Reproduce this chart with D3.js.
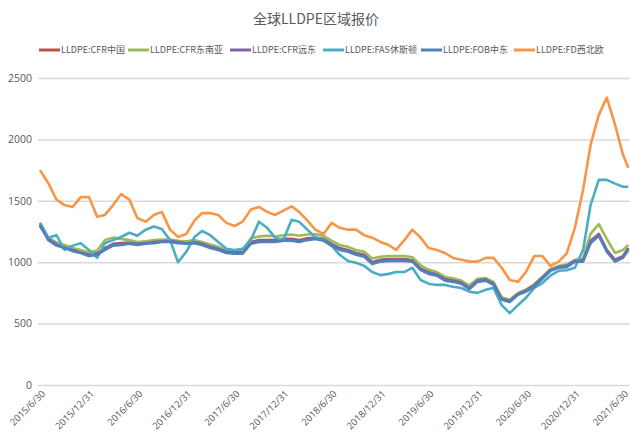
<!DOCTYPE html>
<html>
<head>
<meta charset="utf-8">
<script src="https://cdn.jsdelivr.net/npm/d3@7"></script>
<style>
  html, body { margin: 0; padding: 0; background: #fff; }
  svg { display: block; }
</style>
</head>
<body>
<script>
// Month-end observation dates
const dates = [
  "2015-06-30","2015-07-31","2015-08-31","2015-09-30","2015-10-31","2015-11-30","2015-12-31",
  "2016-01-31","2016-02-29","2016-03-31","2016-04-30","2016-05-31","2016-06-30","2016-07-31","2016-08-31","2016-09-30","2016-10-31","2016-11-30","2016-12-31",
  "2017-01-31","2017-02-28","2017-03-31","2017-04-30","2017-05-31","2017-06-30","2017-07-31","2017-08-31","2017-09-30","2017-10-31","2017-11-30","2017-12-31",
  "2018-01-31","2018-02-28","2018-03-31","2018-04-30","2018-05-31","2018-06-30","2018-07-31","2018-08-31","2018-09-30","2018-10-31","2018-11-30","2018-12-31",
  "2019-01-31","2019-02-28","2019-03-31","2019-04-30","2019-05-31","2019-06-30","2019-07-31","2019-08-31","2019-09-30","2019-10-31","2019-11-30","2019-12-31",
  "2020-01-31","2020-02-29","2020-03-31","2020-04-30","2020-05-31","2020-06-30","2020-07-31","2020-08-31","2020-09-30","2020-10-31","2020-11-30","2020-12-31",
  "2021-01-31","2021-02-28","2021-03-31","2021-04-30","2021-05-31","2021-06-30","2021-07-20"
];

// USD/t quotes by region
const cfrChina = [1300,1195,1150,1125,1105,1085,1065,1075,1115,1150,1155,1160,1155,1160,1170,1175,1180,1170,1160,1170,1155,1130,1115,1090,1085,1085,1165,1180,1180,1180,1190,1190,1180,1195,1200,1190,1150,1115,1100,1075,1060,1000,1020,1025,1025,1025,1015,950,920,905,865,855,840,795,855,865,830,705,690,745,775,815,880,940,965,975,1015,1020,1175,1230,1100,1020,1050,1115];
const cfrSEAsia = [1320,1200,1160,1140,1115,1100,1080,1095,1180,1200,1190,1180,1165,1170,1180,1185,1185,1175,1170,1180,1165,1145,1125,1100,1090,1095,1195,1210,1215,1210,1220,1225,1215,1225,1230,1215,1175,1140,1125,1100,1085,1030,1045,1050,1050,1050,1040,975,940,920,880,870,850,810,865,870,840,715,695,750,775,820,880,945,970,980,1020,1030,1230,1310,1190,1075,1100,1140];
const cfrFarEast = [1295,1190,1145,1120,1100,1080,1060,1070,1110,1145,1150,1155,1150,1155,1165,1170,1175,1165,1155,1165,1150,1125,1110,1085,1080,1080,1160,1175,1175,1175,1185,1185,1175,1190,1195,1185,1145,1110,1095,1070,1055,995,1015,1020,1020,1020,1010,945,915,900,860,850,835,790,850,860,825,700,685,740,770,810,875,935,960,970,1010,1015,1170,1225,1095,1015,1045,1110];
const fasHouston = [1320,1200,1220,1100,1135,1155,1100,1035,1155,1180,1205,1240,1215,1265,1290,1270,1180,1000,1085,1205,1255,1220,1165,1110,1100,1110,1180,1330,1280,1200,1180,1345,1330,1265,1205,1180,1135,1060,1010,995,970,920,895,905,920,920,955,855,825,815,815,800,790,760,750,775,790,650,585,650,710,790,830,890,930,935,955,1100,1465,1670,1670,1640,1615,1615];
const fobMidEast = [1305,1180,1135,1115,1090,1075,1050,1060,1100,1135,1140,1150,1140,1150,1155,1165,1165,1155,1150,1155,1140,1115,1100,1075,1070,1070,1150,1165,1165,1165,1175,1175,1165,1180,1190,1175,1135,1100,1085,1060,1045,985,1005,1010,1010,1010,1005,935,905,890,850,840,825,780,840,850,815,695,675,735,760,800,865,930,955,960,1005,1005,1155,1215,1085,1005,1035,1100];
const fdNWEurope = [1750,1645,1510,1465,1450,1530,1530,1370,1385,1465,1555,1510,1360,1330,1385,1410,1265,1205,1230,1340,1400,1400,1385,1320,1295,1330,1430,1450,1410,1385,1420,1455,1410,1340,1265,1230,1320,1280,1265,1265,1220,1200,1165,1140,1100,1180,1265,1200,1115,1100,1075,1035,1020,1005,1005,1035,1035,955,855,840,920,1050,1050,970,1005,1070,1280,1590,1955,2200,2340,2120,1875,1770];

const seriesNames = ["LLDPE:CFR中国","LLDPE:CFR东南亚","LLDPE:CFR远东","LLDPE:FAS休斯顿","LLDPE:FOB中东","LLDPE:FD西北欧"];
const seriesColors = ["#C0504D","#9BBB59","#8064A2","#4BACC6","#4F81BD","#F79646"];
const seriesValues = [cfrChina, cfrSEAsia, cfrFarEast, fasHouston, fobMidEast, fdNWEurope];

const yTicks = [0, 500, 1000, 1500, 2000, 2500];
const xTickLabels = ["2015/6/30","2015/12/31","2016/6/30","2016/12/31","2017/6/30","2017/12/31",
  "2018/6/30","2018/12/31","2019/6/30","2019/12/31","2020/6/30","2020/12/31","2021/6/30"];

const W = 630, H = 448;
const parse = d3.timeParse("%Y-%m-%d");
const parseLabel = d3.timeParse("%Y/%m/%d");

const svg = d3.select("body").append("svg").attr("width", W).attr("height", H);

const x = d3.scaleTime()
  .domain([parse("2015-06-30"), parse("2021-06-30")])
  .range([40, 623]);
const y = d3.scaleLinear().domain([0, 2500]).range([385, 78]);

// Title
svg.append("text")
  .attr("x", 316).attr("y", 24)
  .attr("text-anchor", "middle")
  .attr("font-family", "'Noto Sans CJK SC', 'Noto Sans', sans-serif")
  .attr("font-size", 14)
  .attr("fill", "#595959")
  .text("全球LLDPE区域报价");

// Legend
const legendX = [39, 128, 230, 323, 421, 514];
const legend = svg.append("g").attr("transform", "translate(0,50)");
seriesNames.forEach((name, i) => {
  const g = legend.append("g").attr("transform", `translate(${legendX[i]},0)`);
  g.append("line").attr("x1", 0).attr("x2", 21).attr("y1", 0).attr("y2", 0)
    .attr("stroke", seriesColors[i]).attr("stroke-width", 3);
  g.append("text").attr("x", 22).attr("y", 0).attr("dy", "0.35em")
    .attr("font-family", "'Noto Sans CJK SC', 'Noto Sans', sans-serif")
    .attr("font-size", 9).attr("fill", "#595959")
    .text(name);
});

// Y axis with gridlines
const yAxis = d3.axisLeft(y).tickValues(yTicks).tickFormat(d3.format("d"))
  .tickSize(-(W - 38)).tickPadding(6);
const yg = svg.append("g").attr("transform", "translate(38,0)").call(yAxis);
yg.select(".domain").remove();
yg.selectAll(".tick line").attr("stroke", "#D9D9D9").attr("stroke-width", 1.5);
yg.selectAll(".tick text")
  .attr("font-family", "'Open Sans', 'DejaVu Sans', sans-serif")
  .attr("font-size", 10.5).attr("fill", "#595959");

// X axis labels (rotated)
const xAxis = d3.axisBottom(x)
  .tickValues(xTickLabels.map(parseLabel))
  .tickFormat(d3.timeFormat("%Y/%-m/%-d"))
  .tickSize(0);
const xg = svg.append("g").attr("transform", "translate(0,385)").call(xAxis);
xg.select(".domain").remove();
xg.selectAll(".tick text")
  .attr("font-family", "'Open Sans', 'DejaVu Sans', sans-serif")
  .attr("font-size", 9.5).attr("fill", "#595959")
  .attr("text-anchor", "end")
  .attr("transform", "translate(3,7) rotate(-45)")
  .attr("dy", "0.35em").attr("y", 0).attr("x", 0);

// Series lines
const dateObjs = dates.map(parse);
const line = d3.line()
  .x(d => x(d[0]))
  .y(d => y(d[1]));

seriesValues.forEach((vals, i) => {
  const pts = vals.map((v, j) => [dateObjs[j], v]);
  svg.append("path")
    .datum(pts)
    .attr("fill", "none")
    .attr("stroke", seriesColors[i])
    .attr("stroke-width", 2.6)
    .attr("stroke-linejoin", "round")
    .attr("d", line);
});
</script>
</body>
</html>
